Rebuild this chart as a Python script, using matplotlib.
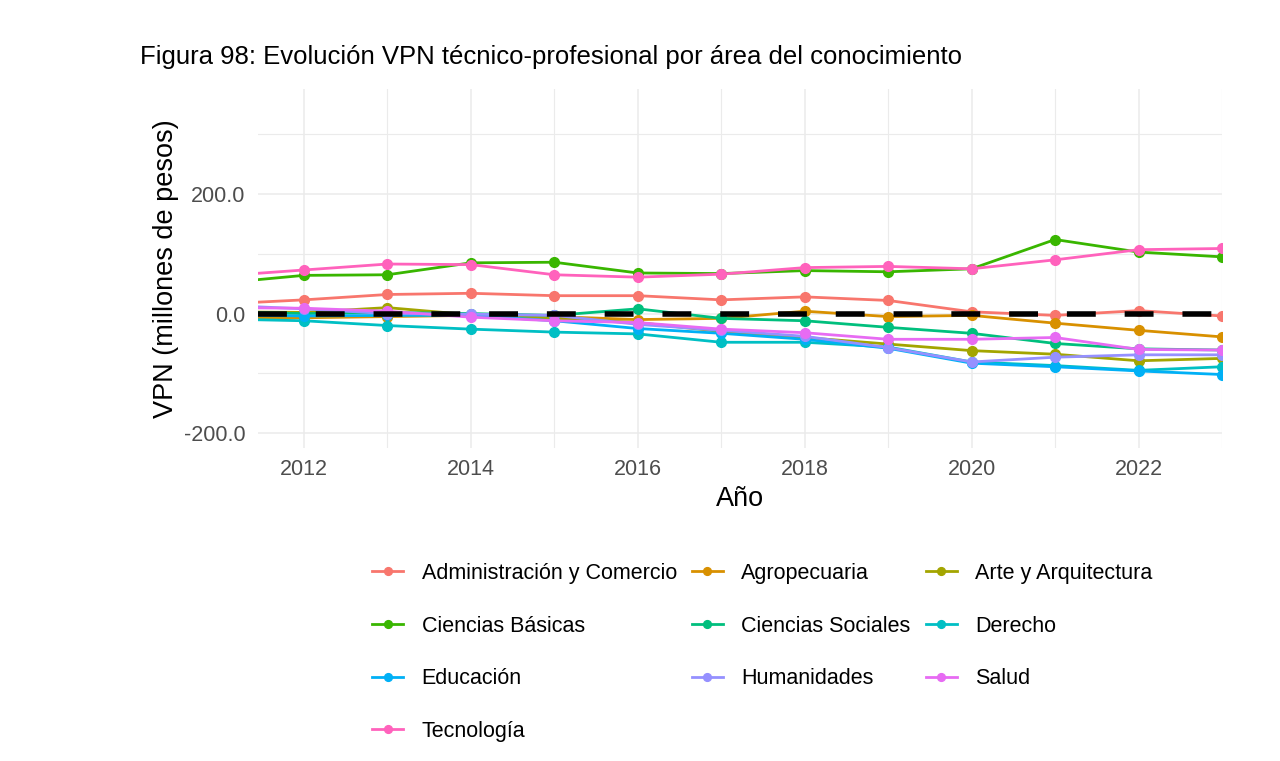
import numpy as np
import matplotlib
matplotlib.use('Agg')
import matplotlib.pyplot as plt
from matplotlib.ticker import MultipleLocator, FixedLocator

plt.rcParams['font.family'] = ['Liberation Sans', 'DejaVu Sans']

years = list(range(2011, 2024))

admin_comercio = [16, 23, 32, 34, 30, 30, 23, 28, 22, 3, -3, 5, -4]
agropecuaria = [-8, -7, -5, -3, -5, -10, -8, 4, -5, -3, -16, -28, -39]
arte_arquitectura = [3, 2, 10, -2, -8, -15, -30, -40, -51, -62, -68, -79, -75]
ciencias_basicas = [51, 64, 65, 85, 86, 68, 67, 72, 70, 75, 124, 103, 95]
ciencias_sociales = [3, 0, 2, 0, -3, 8, -8, -12, -23, -33, -50, -59, -61]
derecho = [-9, -12, -20, -26, -31, -34, -48, -48, -56, -81, -87, -95, -89]
educacion = [-2, -4, -3, -3, -12, -25, -33, -43, -58, -83, -89, -96, -102]
humanidades = [14, 8, 0, -1, -3, -18, -28, -38, -57, -81, -73, -69, -69]
salud = [10, 9, 4, -6, -12, -15, -26, -32, -43, -43, -40, -60, -61]
tecnologia = [63, 73, 83, 82, 65, 61, 66, 77, 79, 75, 90, 107, 109]

areas = ['Administración y Comercio', 'Agropecuaria', 'Arte y Arquitectura',
         'Ciencias Básicas', 'Ciencias Sociales', 'Derecho',
         'Educación', 'Humanidades', 'Salud', 'Tecnología']
series = [admin_comercio, agropecuaria, arte_arquitectura, ciencias_basicas,
          ciencias_sociales, derecho, educacion, humanidades, salud, tecnologia]
colores = ['#F8766D', '#D89000', '#A3A500', '#39B600', '#00BF7D',
           '#00BFC4', '#00B0F6', '#9590FF', '#E76BF3', '#FF62BC']

fig = plt.figure(figsize=(12.8, 7.61), dpi=100)
ax = fig.add_axes([258 / 1280, 1 - 448 / 761, (1222 - 258) / 1280, (448 - 89) / 761])

handles = {}
for nombre, vals, c in zip(areas, series, colores):
    h, = ax.plot(years, vals, color=c, lw=2.0, marker='o', ms=7, label=nombre)
    handles[nombre] = h

ax.axhline(0, color='black', lw=4.0, dashes=(5.2, 5.2), zorder=5)

ax.set_xlim(2011.45, 2023.0)
ax.set_ylim(-225, 376)
ax.xaxis.set_major_locator(MultipleLocator(2))
ax.xaxis.set_minor_locator(MultipleLocator(1))
ax.yaxis.set_major_locator(FixedLocator([-200, 0, 200]))
ax.yaxis.set_minor_locator(FixedLocator([-100, 100, 300]))
ax.set_yticklabels(['-200.0', '0.0', '200.0'])

ax.grid(which='major', color='#EBEBEB', lw=1.1)
ax.grid(which='minor', color='#EBEBEB', lw=0.8)
ax.set_axisbelow(True)
for s in ax.spines.values():
    s.set_visible(False)
ax.tick_params(which='both', length=0)
ax.tick_params(axis='x', labelsize=15.5, labelcolor='#4D4D4D', pad=8)
ax.tick_params(axis='y', labelsize=15.5, labelcolor='#4D4D4D', pad=9)

ax.set_xlabel('Año', fontsize=19.5, color='black')
ax.xaxis.set_label_coords(0.5, -0.105)
ax.set_ylabel('VPN (millones de pesos)', fontsize=19.5, color='black')
ax.yaxis.set_label_coords(-0.082, 0.5)

fig.text(140 / 1280, 1 - 57 / 761,
         'Figura 98: Evolución VPN técnico-profesional por área del conocimiento',
         fontsize=18.5, va='center', ha='left')

orden = ['Administración y Comercio', 'Ciencias Básicas', 'Educación', 'Tecnología',
         'Agropecuaria', 'Ciencias Sociales', 'Humanidades',
         'Arte y Arquitectura', 'Derecho', 'Salud']
fig.legend([handles[n] for n in orden], orden, ncol=3, frameon=False,
           loc='upper left', bbox_to_anchor=(372 / 1280, 1 - 563 / 761),
           bbox_transform=fig.transFigure, fontsize=15.5, numpoints=1,
           handlelength=1.45, handletextpad=0.85, columnspacing=0.7,
           labelspacing=1.47, borderpad=0, borderaxespad=0, markerscale=0.8)

fig.savefig('out.png', dpi=100)
